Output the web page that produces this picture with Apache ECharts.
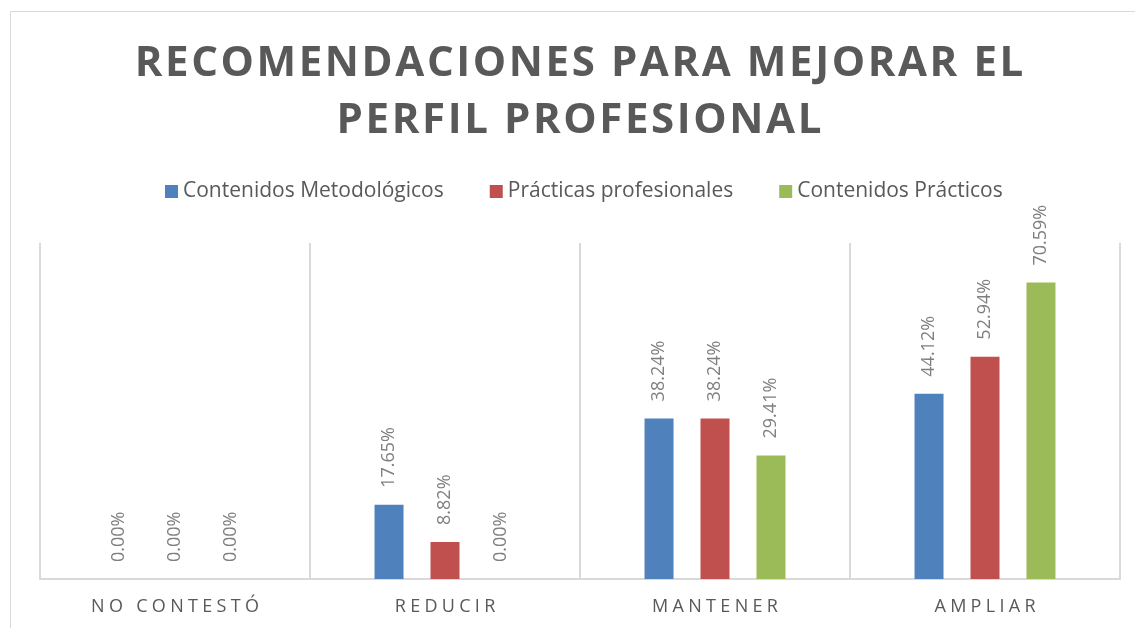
<!DOCTYPE html>
<html>
<head>
<meta charset="utf-8">
<script src="https://cdn.jsdelivr.net/npm/echarts@6/dist/echarts.min.js"></script>
<style>
  html, body { margin: 0; padding: 0; background: #fff; }
  #chart { width: 1135px; height: 628px; }
</style>
</head>
<body>
<div id="chart"></div>
<script>
const titleLines = ['RECOMENDACIONES PARA MEJORAR EL', 'PERFIL PROFESIONAL'];
const categories = ['NO CONTESTÓ', 'REDUCIR', 'MANTENER', 'AMPLIAR'];
const seriesNames = ['Contenidos Metodológicos', 'Prácticas profesionales', 'Contenidos Prácticos'];
const metodologicos = [0, 17.65, 38.24, 44.12];
const practicasProf = [0, 8.82, 38.24, 52.94];
const practicos = [0, 0, 29.41, 70.59];
const colors = ['#4f81bd', '#c0504d', '#9bbb59'];

const font = '"Open Sans", "Noto Sans", sans-serif';

// letter-spaced text: each char is its own rich fragment with right padding
function spaced(str) {
  const chars = Array.from(str);
  return chars.map((c, i) => (i < chars.length - 1 ? '{s|' : '{t|') + c + '}').join('');
}

function makeSeries(name, values, color) {
  return {
    type: 'bar',
    name: name,
    data: values,
    barWidth: 29,
    barGap: '93%',
    itemStyle: { color: color },
    label: {
      show: true,
      position: 'top',
      rotate: 90,
      align: 'left',
      verticalAlign: 'middle',
      distance: 17,
      fontFamily: font,
      fontSize: 18,
      color: '#7f7f7f',
      formatter: p => p.value.toFixed(2) + '%'
    }
  };
}

const titleStyle = { fontFamily: font, fontSize: 42, fontWeight: 'bold', color: '#595959', lineHeight: 57 };
const axisStyle = { fontFamily: font, fontSize: 18, color: '#595959' };

const chart = echarts.init(document.getElementById('chart'));
chart.setOption({
  animation: false,
  textStyle: { fontFamily: font },
  graphic: [{
    type: 'rect',
    shape: { x: 10.5, y: 11.5, width: 1140, height: 640 },
    style: { fill: 'none', stroke: '#d9d9d9', lineWidth: 1 },
    silent: true
  }],
  title: {
    text: titleLines.map(spaced).join('\n'),
    left: 574,
    textAlign: 'center',
    top: 31,
    textStyle: {
      fontFamily: font,
      lineHeight: 57,
      rich: {
        s: Object.assign({ padding: [0, 2.6, 0, 0] }, titleStyle),
        t: Object.assign({}, titleStyle)
      }
    }
  },
  legend: {
    top: 176,
    left: 160,
    itemWidth: 13,
    itemHeight: 13,
    itemGap: 46,
    icon: 'rect',
    textStyle: { fontFamily: font, fontSize: 21, color: '#595959' },
    data: seriesNames
  },
  grid: { left: 40, right: 15, top: 243, bottom: 49 },
  xAxis: {
    type: 'category',
    data: categories,
    axisLine: { lineStyle: { color: '#d9d9d9', width: 2 } },
    axisTick: { show: false, interval: 0 },
    splitLine: { show: true, interval: 0, lineStyle: { color: '#d9d9d9', width: 2 } },
    axisLabel: {
      interval: 0,
      margin: 19,
      formatter: v => spaced(v),
      rich: {
        s: Object.assign({ padding: [0, 4.3, 0, 0] }, axisStyle),
        t: Object.assign({}, axisStyle)
      }
    }
  },
  yAxis: {
    type: 'value',
    min: 0,
    max: 80,
    show: false
  },
  series: [
    makeSeries(seriesNames[0], metodologicos, colors[0]),
    makeSeries(seriesNames[1], practicasProf, colors[1]),
    makeSeries(seriesNames[2], practicos, colors[2])
  ]
});
</script>
</body>
</html>
